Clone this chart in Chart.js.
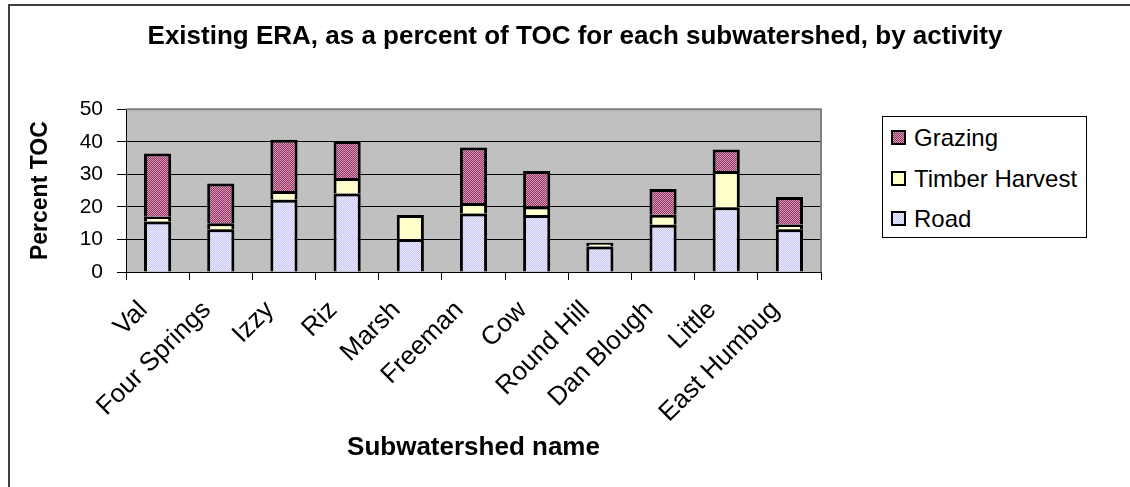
<!DOCTYPE html>
<html>
<head>
<meta charset="utf-8">
<script src="https://cdn.jsdelivr.net/npm/chart.js@4.4.1/dist/chart.umd.min.js"></script>
<style>
  html, body { margin: 0; padding: 0; background: #fff; }
  #wrap { position: relative; width: 1130px; height: 487px; overflow: hidden; }
  #legend {
    position: absolute; left: 882px; top: 116px; width: 205px; height: 122px;
    border: 1px solid #000; background: #fff; box-sizing: border-box;
    font-family: "Liberation Sans", Arial, sans-serif; font-size: 24px; color: #000;
  }
  #legend .item { position: absolute; left: 8px; height: 28px; line-height: 28px; white-space: nowrap; }
  #legend .sw { display: inline-block; width: 11px; height: 11px; border: 2px solid #000; vertical-align: middle; margin-right: 8px; position: relative; top: -2px; }
</style>
</head>
<body>
<div id="wrap">
  <canvas id="chart" width="1130" height="487"></canvas>
  <div id="legend"></div>
</div>
<script>
const categories = ['Val', 'Four Springs', 'Izzy', 'Riz', 'Marsh', 'Freeman', 'Cow', 'Round Hill', 'Dan Blough', 'Little', 'East Humbug'];
const roadValues = [15.5, 13.1, 22.2, 24.1, 10.1, 18.0, 17.5, 7.8, 14.5, 19.9, 13.1];
const timberValues = [1.5, 1.9, 2.7, 4.8, 7.4, 3.2, 2.6, 1.2, 3.1, 11.1, 1.5];
const grazingValues = [19.4, 12.2, 15.7, 11.3, 0, 17.0, 10.9, 0, 7.9, 6.6, 8.4];
const yTicks = [0, 10, 20, 30, 40, 50];

const FONT = '"Liberation Sans", Arial, sans-serif';

// small checker patterns, like the old spreadsheet fills
function checker(c1, c2) {
  let p = document.createElement('canvas');
  p.width = 2; p.height = 2;
  let g = p.getContext('2d');
  g.fillStyle = c1; g.fillRect(0, 0, 2, 2);
  g.fillStyle = c2; g.fillRect(0, 0, 1, 1); g.fillRect(1, 1, 1, 1);
  return g.createPattern(p, 'repeat');
}
let ctx0 = document.getElementById('chart').getContext('2d');
let roadFill = checker('#c4c4f6', '#eeeeff');
let grazingFill = checker('#993366', '#d29cb8');
let timberFill = '#ffffcc';

// segments share one line between them, so no bottom edge
let segBorder = { top: 3, left: 3, right: 3, bottom: 0 };

const padLeft = 20;
const plotLeft = 126, plotRight = 821, plotBottom = 272;

let plotBg = {
  id: 'plotBg',
  beforeDraw(chart) {
    let c = chart.ctx, a = chart.chartArea;
    c.save();
    c.fillStyle = '#c0c0c0';
    c.fillRect(a.left, a.top, a.right - a.left, a.bottom - a.top);
    c.restore();
  },
  afterDatasetsDraw(chart) {
    let c = chart.ctx, a = chart.chartArea;
    c.save();
    c.strokeStyle = '#808080';
    c.lineWidth = 2;
    c.beginPath();
    c.moveTo(a.left, a.top);
    c.lineTo(a.right, a.top);
    c.lineTo(a.right, a.bottom);
    c.stroke();
    c.restore();
  },
  afterDraw(chart) {
    let c = chart.ctx;
    c.save();
    c.strokeStyle = '#404040';
    c.lineWidth = 2;
    c.strokeRect(9, 5, 1300, 700);
    c.restore();
  }
};

let myChart = new Chart(ctx0, {
  type: 'bar',
  data: {
    labels: categories,
    datasets: [{
      label: 'Road',
      data: roadValues,
      backgroundColor: roadFill,
      borderColor: '#000',
      borderWidth: segBorder,
      borderSkipped: false
    }, {
      label: 'Timber Harvest',
      data: timberValues,
      backgroundColor: timberFill,
      borderColor: '#000',
      borderWidth: segBorder,
      borderSkipped: false
    }, {
      label: 'Grazing',
      data: grazingValues,
      backgroundColor: grazingFill,
      borderColor: '#000',
      borderWidth: segBorder,
      borderSkipped: false
    }]
  },
  options: {
    responsive: false,
    animation: false,
    layout: { padding: { left: padLeft, right: 0, top: 0, bottom: 0 } },
    datasets: { bar: { barPercentage: 0.43, categoryPercentage: 1 } },
    plugins: {
      legend: { display: false },
      tooltip: { enabled: false },
      title: {
        display: true,
        text: 'Existing ERA, as a percent of TOC for each subwatershed, by activity',
        color: '#000',
        font: { family: FONT, size: 26, weight: 'bold' },
        padding: { top: 21, bottom: 57 }
      }
    },
    scales: {
      x: {
        stacked: true,
        grid: { drawOnChartArea: false, drawTicks: true, tickLength: 8, color: '#000' },
        border: { color: '#000', width: 1 },
        ticks: {
          color: '#000', autoSkip: false, maxRotation: 45, minRotation: 45,
          padding: 15, labelOffset: -14,
          font: { family: FONT, size: 26 }
        },
        title: {
          display: true, text: 'Subwatershed name', color: '#000',
          font: { family: FONT, size: 26, weight: 'bold' },
          padding: { top: 4, bottom: 24 }
        },
        afterFit(scale) { scale.height = 487 - plotBottom; }
      },
      y: {
        stacked: true,
        min: 0, max: 50,
        afterBuildTicks(scale) { scale.ticks = yTicks.map(v => ({ value: v })); },
        grid: {
          color: (c) => (c.tick && c.tick.value === 50 ? '#808080' : '#000'),
          tickColor: '#000', tickLength: 9, lineWidth: 1
        },
        border: { color: '#000', width: 1 },
        ticks: { color: '#000', padding: 14, font: { family: FONT, size: 21 } },
        title: {
          display: true, text: 'Percent TOC', color: '#000',
          font: { family: FONT, size: 23, weight: 'bold' },
          padding: { top: 7, bottom: 0 }
        },
        afterFit(scale) { scale.width = plotLeft - padLeft; }
      },
      // empty axis that keeps room on the right for the legend
      yRoom: {
        type: 'linear',
        position: 'right',
        display: true,
        grid: { display: false },
        border: { display: false },
        ticks: { display: false },
        afterFit(scale) { scale.width = 1130 - plotRight; }
      }
    }
  },
  plugins: [plotBg]
});

// legend, top item first like the stack
let legendItems = [
  { text: 'Grazing', fill: 'repeating-conic-gradient(#993366 0 25%, #d29cb8 0 50%) 0 0 / 2px 2px' },
  { text: 'Timber Harvest', fill: '#ffffcc' },
  { text: 'Road', fill: 'repeating-conic-gradient(#c4c4f6 0 25%, #eeeeff 0 50%) 0 0 / 2px 2px' }
];
let legendTops = [7, 48, 88];
let legendEl = document.getElementById('legend');
legendItems.forEach((it, i) => {
  let d = document.createElement('div');
  d.className = 'item';
  d.style.top = legendTops[i] + 'px';
  let s = document.createElement('span');
  s.className = 'sw';
  s.style.background = it.fill;
  d.appendChild(s);
  d.appendChild(document.createTextNode(it.text));
  legendEl.appendChild(d);
});
</script>
</body>
</html>
